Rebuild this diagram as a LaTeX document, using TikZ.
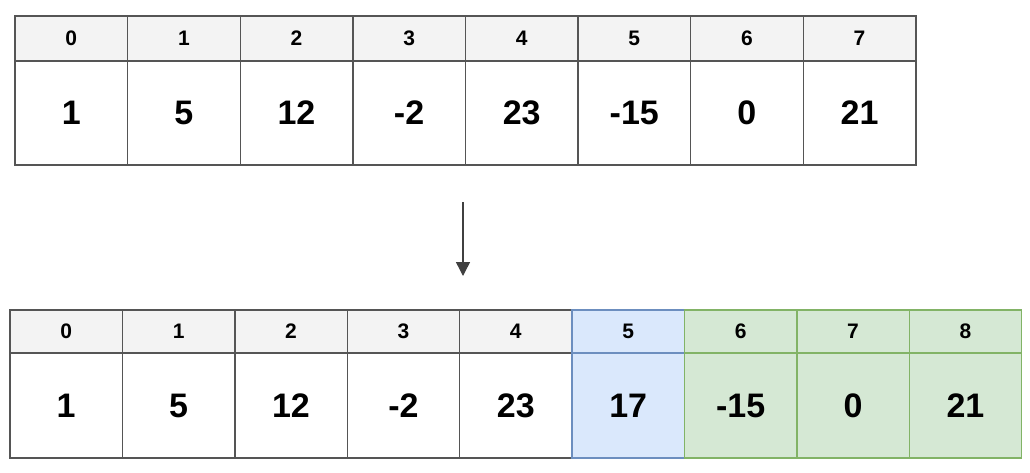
\documentclass[tikz,border=0pt]{standalone}
\usepackage{fontspec}
\setmainfont{Liberation Sans}
\usetikzlibrary{arrows.meta}
\definecolor{hdrfill}{HTML}{F3F3F3}
\definecolor{grayline}{HTML}{555555}
\definecolor{bluefill}{HTML}{DAE8FC}
\definecolor{blueline}{HTML}{6C8EBF}
\definecolor{greenfill}{HTML}{D5E8D4}
\definecolor{greenline}{HTML}{82B366}
\tikzset{
  cell/.style={draw=grayline, line width=1.4pt, inner sep=0pt, outer sep=0pt, anchor=north west, font=\bfseries},
  hdr/.style={cell, fill=hdrfill, font=\fontsize{21}{24}\selectfont\bfseries},
  val/.style={cell, fill=white, font=\fontsize{34}{38}\selectfont\bfseries},
  bluecell/.style={fill=bluefill, draw=blueline},
  greencell/.style={fill=greenfill, draw=greenline},
  arr/.style={draw=black!75, line width=1.4pt, -{Triangle[length=14pt,width=14pt]}}
}
\begin{document}
\begin{tikzpicture}[x=1pt,y=-1pt]
\useasboundingbox (0,0) rectangle (1030,472);
% top array
\foreach \v [count=\i from 0] in {1,5,12,-2,23,-15,0,21}{
  \node[hdr, minimum width=112.6pt, minimum height=45pt] (th\i) at ({15+112.6*\i},16) {\i};
  \node[val, minimum width=112.6pt, minimum height=104pt] (tv\i) at ({15+112.6*\i},61) {\v};
}
% bottom array
\foreach \v [count=\i from 0] in {1,5,12,-2,23}{
  \node[hdr, minimum width=112.4pt, minimum height=43pt] (bh\i) at ({10+112.4*\i},310) {\i};
  \node[val, minimum width=112.4pt, minimum height=105pt] (bv\i) at ({10+112.4*\i},353) {\v};
}
\node[hdr, bluecell, minimum width=112.4pt, minimum height=43pt] (bh5) at ({10+112.4*5},310) {5};
\node[val, bluecell, minimum width=112.4pt, minimum height=105pt] (bv5) at ({10+112.4*5},353) {17};
\foreach \v [count=\j from 6] in {-15,0,21}{
  \node[hdr, greencell, minimum width=112.4pt, minimum height=43pt] (bh\j) at ({10+112.4*\j},310) {\j};
  \node[val, greencell, minimum width=112.4pt, minimum height=105pt] (bv\j) at ({10+112.4*\j},353) {\v};
}
% arrow
\coordinate (as) at (463,202);
\coordinate (ae) at (463,276);
\draw[arr] (as) -- (ae);
\end{tikzpicture}
\end{document}
